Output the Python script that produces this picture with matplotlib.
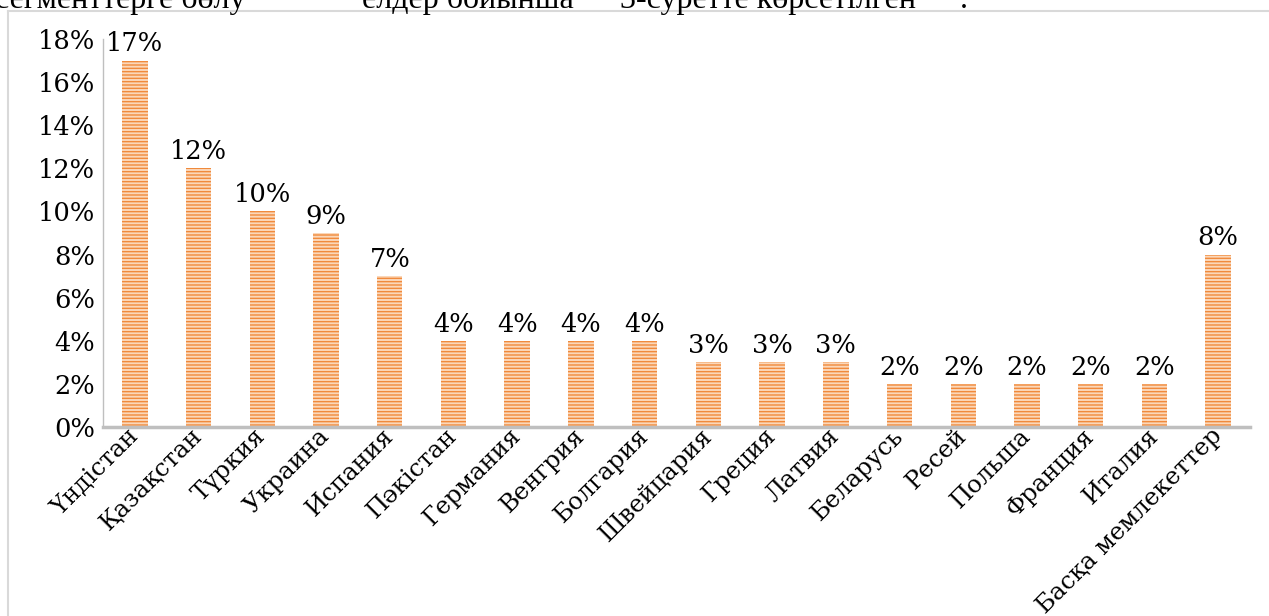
import matplotlib.pyplot as plt
from matplotlib.lines import Line2D

plt.rcParams["font.family"] = ["DejaVu Serif"]
plt.rcParams["hatch.linewidth"] = 1.0

countries = ["Үндістан", "Қазақстан", "Түркия", "Украина", "Испания", "Пәкістан",
             "Германия", "Венгрия", "Болгария", "Швейцария", "Греция", "Латвия",
             "Беларусь", "Ресей", "Польша", "Франция", "Италия", "Басқа мемлекеттер"]
shares = [17, 12, 10, 9, 7, 4, 4, 4, 4, 3, 3, 3, 2, 2, 2, 2, 2, 8]
yticks = [0, 2, 4, 6, 8, 10, 12, 14, 16, 18]

fig = plt.figure(figsize=(12.69, 6.16), dpi=100)
ax = fig.add_axes([103 / 1269, 1 - 427 / 616, (1250 - 103) / 1269, (427 - 39) / 616])

x = range(len(countries))
# striped orange bars
ax.bar(x, shares, width=0.4, color="#fbd7b9", edgecolor="#f08a3c",
       hatch="-----", linewidth=0)
for xi, v in zip(x, shares):
    ax.annotate(f"{v}%", (xi, v), xytext=(0, 3), textcoords="offset points",
                ha="center", va="bottom", fontsize=18.5)

ax.set_xlim(-0.5, len(countries) - 0.5)
ax.set_ylim(0, 18)
ax.set_yticks(yticks)
ax.set_yticklabels([f"{t}%" for t in yticks], fontsize=18.5)
ax.set_xticks(list(x))
ax.set_xticklabels(countries, rotation=45, ha="right", va="center",
                   rotation_mode="anchor", fontsize=17.5)
ax.tick_params(axis="y", length=0, pad=6)
ax.tick_params(axis="x", length=0, pad=4)

for s in ["top", "right"]:
    ax.spines[s].set_visible(False)
ax.spines["left"].set_color("#bfbfbf")
ax.spines["left"].set_linewidth(1)
ax.spines["bottom"].set_color("#bfbfbf")
ax.spines["bottom"].set_linewidth(2.5)

# outer chart frame (cut off by the page)
fig.add_artist(Line2D([8 / 1269, 8 / 1269], [0, 1 - 11 / 616], color="#d9d9d9", lw=1.5))
fig.add_artist(Line2D([8 / 1269, 1], [1 - 11 / 616, 1 - 11 / 616], color="#d9d9d9", lw=1.5))

# clipped line of document text above the chart
for xt, t in [(-5, "сегменттерге бөлу"), (362, "елдер бойынша"),
              (620, "3-суретте көрсетілген"), (960, ".")]:
    fig.text(xt / 1269, 1 - 8 / 616, t, fontsize=23, family="Liberation Serif",
             ha="left", va="baseline")

fig.savefig("out.png", dpi=100)
